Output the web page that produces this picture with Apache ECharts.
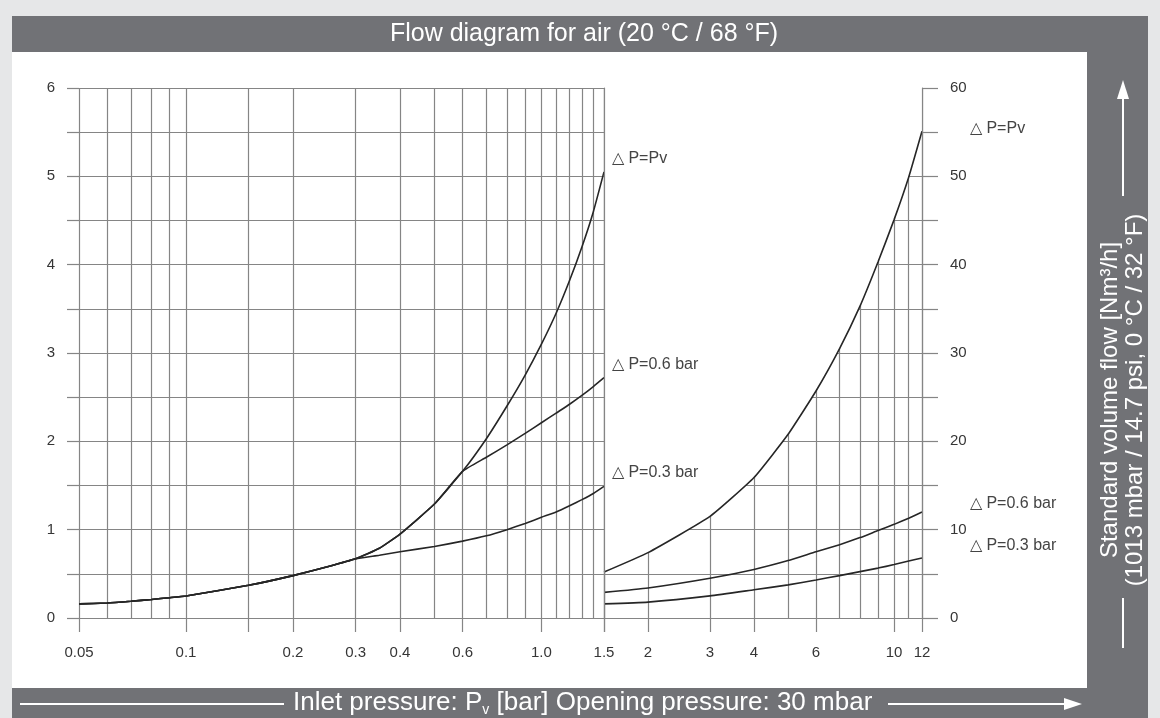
<!DOCTYPE html>
<html lang="en">
<head>
<meta charset="UTF-8">
<title>Flow diagram for air</title>
<script src="https://cdn.jsdelivr.net/npm/echarts@6/dist/echarts.min.js"></script>
<style>
html, body { margin: 0; padding: 0; background: #e6e7e8; }
#main { width: 1160px; height: 718px; }
</style>
</head>
<body>
<div id="main"></div>
<script>
// inlet pressure [bar] for the left part, flow read on the 0..6 scale
var leftX   = [0.05, 0.06, 0.07, 0.08, 0.09, 0.1, 0.15, 0.2, 0.25, 0.3, 0.35, 0.4, 0.5, 0.6, 0.7, 0.8, 0.9, 1.0, 1.1, 1.2, 1.3, 1.4, 1.5];
var pvLeft  = [0.16, 0.17, 0.19, 0.21, 0.23, 0.25, 0.37, 0.48, 0.58, 0.67, 0.79, 0.95, 1.29, 1.66, 2.03, 2.40, 2.75, 3.10, 3.45, 3.82, 4.20, 4.60, 5.05];
var p06Left = [0.16, 0.17, 0.19, 0.21, 0.23, 0.25, 0.37, 0.48, 0.58, 0.67, 0.79, 0.95, 1.29, 1.66, 1.82, 1.96, 2.09, 2.21, 2.32, 2.42, 2.52, 2.62, 2.72];
var p03Left = [0.16, 0.17, 0.19, 0.21, 0.23, 0.25, 0.37, 0.48, 0.58, 0.67, 0.71, 0.75, 0.81, 0.87, 0.93, 1.00, 1.07, 1.14, 1.20, 1.27, 1.34, 1.41, 1.49];

// right part, flow read on the 0..60 scale
var rightX   = [1.5, 2, 3, 4, 5, 6, 7, 8, 9, 10, 11, 12];
var pvRight  = [5.2, 7.4, 11.5, 15.9, 20.8, 25.7, 30.5, 35.3, 40.3, 45.1, 49.9, 55.1];
var p06Right = [2.9, 3.4, 4.5, 5.5, 6.5, 7.5, 8.3, 9.1, 9.9, 10.6, 11.3, 12.0];
var p03Right = [1.6, 1.8, 2.5, 3.2, 3.75, 4.3, 4.8, 5.25, 5.65, 6.05, 6.45, 6.8];

// grid lines, ticks and tick labels of the pressure axis
var leftGridX  = [0.05, 0.06, 0.07, 0.08, 0.09, 0.1, 0.15, 0.2, 0.3, 0.4, 0.5, 0.6, 0.7, 0.8, 0.9, 1.0, 1.1, 1.2, 1.3, 1.4, 1.5];
var leftTickX  = [0.05, 0.1, 0.15, 0.2, 0.3, 0.4, 0.6, 1.0, 1.5];
var leftLabelX = [0.05, 0.1, 0.2, 0.3, 0.4, 0.6, 1.0, 1.5];
var leftLabelText = ['0.05', '0.1', '0.2', '0.3', '0.4', '0.6', '1.0', '1.5'];
var rightGridX  = [1.5, 2, 3, 4, 5, 6, 7, 8, 9, 10, 11, 12];
var rightTickX  = [1.5, 2, 3, 4, 6, 10, 12];
var rightLabelX = [2, 3, 4, 6, 10, 12];
var rightLabelText = ['2', '3', '4', '6', '10', '12'];

var curveNames = ['\u25B3 P=Pv', '\u25B3 P=0.6 bar', '\u25B3 P=0.3 bar'];

var FONT = '"Liberation Sans", Arial, sans-serif';
var gridLine = { color: '#858585', width: 1.2 };
var tickFont = { color: '#363636', fontSize: 15, fontFamily: FONT };

function pairs(xs, ys) {
  return xs.map(function (x, i) { return [x, ys[i]]; });
}
function lookup(vals, texts) {
  return function (v) {
    for (var i = 0; i < vals.length; i++) {
      if (Math.abs(vals[i] - v) < 1e-6) return texts[i];
    }
    return '';
  };
}
function curve(name, xi, yi, data, label, off) {
  return {
    name: name, type: 'line', xAxisIndex: xi, yAxisIndex: yi,
    data: data, smooth: 0.15, symbol: 'none',
    lineStyle: { color: '#262626', width: 1.6 },
    endLabel: { show: true, formatter: label, offset: off, color: '#444', fontSize: 16, fontFamily: FONT },
    z: 3
  };
}

var myChart = echarts.init(document.getElementById('main'));

var series = [
  curve('pvL', 0, 0, pairs(leftX, pvLeft), curveNames[0], [0, -13]),
  curve('p06L', 0, 0, pairs(leftX, p06Left), curveNames[1], [0, -13]),
  curve('p03L', 0, 0, pairs(leftX, p03Left), curveNames[2], [0, -14]),
  curve('pvR', 2, 1, pairs(rightX, pvRight), curveNames[0], [40, -3]),
  curve('p06R', 2, 1, pairs(rightX, p06Right), curveNames[1], [40, -8]),
  curve('p03R', 2, 1, pairs(rightX, p03Right), curveNames[2], [40, -12])
];
// blank the grid above the Pv curve in the right part
series[3].areaStyle = { color: '#ffffff', opacity: 1, origin: 'end' };

var option = {
  backgroundColor: '#e6e7e8',
  animation: false,
  grid: [
    { left: 79, top: 88, width: 525, height: 530, outerBoundsMode: 'none' },
    { left: 604, top: 88, width: 318, height: 530, outerBoundsMode: 'none' }
  ],
  xAxis: [
    { gridIndex: 0, type: 'log', min: 0.05, max: 1.5,
      axisLine: { show: false },
      axisTick: { show: false, customValues: leftGridX },
      splitLine: { show: true, lineStyle: gridLine },
      axisLabel: Object.assign({ customValues: leftLabelX, formatter: lookup(leftLabelX, leftLabelText), margin: 27 }, tickFont) },
    { gridIndex: 0, type: 'log', min: 0.05, max: 1.5, position: 'bottom',
      axisLine: { show: false },
      axisTick: { show: true, customValues: leftTickX, length: 14, lineStyle: gridLine },
      splitLine: { show: false }, axisLabel: { show: false } },
    { gridIndex: 1, type: 'log', min: 1.5, max: 12,
      axisLine: { show: false },
      axisTick: { show: false, customValues: rightGridX },
      splitLine: { show: true, lineStyle: gridLine },
      axisLabel: Object.assign({ customValues: rightLabelX, formatter: lookup(rightLabelX, rightLabelText), margin: 27 }, tickFont) },
    { gridIndex: 1, type: 'log', min: 1.5, max: 12, position: 'bottom',
      axisLine: { show: false },
      axisTick: { show: true, customValues: rightTickX, length: 14, lineStyle: gridLine },
      splitLine: { show: false }, axisLabel: { show: false } },
    { gridIndex: 1, type: 'log', min: 1.5, max: 12, position: 'top', z: 5,
      axisLine: { show: true, lineStyle: gridLine },
      axisTick: { show: false }, splitLine: { show: false }, axisLabel: { show: false } }
  ],
  yAxis: [
    { gridIndex: 0, type: 'value', min: 0, max: 6, interval: 0.5,
      axisLine: { show: false },
      axisTick: { show: true, length: 12, lineStyle: gridLine },
      splitLine: { show: true, lineStyle: gridLine },
      axisLabel: Object.assign({ interval: 0, margin: 24, formatter: function (v) { return v % 1 === 0 ? String(v) : ''; } }, tickFont) },
    { gridIndex: 1, type: 'value', position: 'right', min: 0, max: 60, interval: 5,
      axisLine: { show: false },
      axisTick: { show: true, length: 16, lineStyle: gridLine },
      splitLine: { show: true, lineStyle: gridLine },
      axisLabel: Object.assign({ interval: 0, margin: 28, formatter: function (v) { return v % 10 === 0 ? String(v) : ''; } }, tickFont) },
    { gridIndex: 1, type: 'value', position: 'left', min: 0, max: 60, z: 5,
      axisLine: { show: true, lineStyle: gridLine },
      axisTick: { show: false }, splitLine: { show: false }, axisLabel: { show: false } },
    { gridIndex: 1, type: 'value', position: 'right', min: 0, max: 60, z: 5,
      axisLine: { show: true, lineStyle: gridLine },
      axisTick: { show: false }, splitLine: { show: false }, axisLabel: { show: false } }
  ],
  graphic: { elements: [
    { type: 'rect', silent: true, z: -20, shape: { x: 12, y: 16, width: 1136, height: 702 }, style: { fill: '#717276' } },
    { type: 'rect', silent: true, z: -19, shape: { x: 12, y: 52, width: 1075, height: 636 }, style: { fill: '#ffffff' } },
    { type: 'text', silent: true, x: 584, y: 34,
      style: { text: 'Flow diagram for air (20 °C / 68 °F)', fill: '#ffffff', fontSize: 25, fontFamily: FONT, align: 'center', verticalAlign: 'middle' } },
    // bottom axis title with arrow
    { type: 'line', silent: true, shape: { x1: 20, y1: 704, x2: 284, y2: 704 }, style: { stroke: '#ffffff', lineWidth: 2 } },
    { type: 'text', silent: true, x: 293, y: 703,
      style: { text: 'Inlet pressure: P{sub|v} [bar] Opening pressure: 30 mbar', fill: '#ffffff', fontSize: 26, fontFamily: FONT,
        align: 'left', verticalAlign: 'middle', lineHeight: 28,
        rich: { sub: { fontSize: 14, fontFamily: FONT, fill: '#ffffff', lineHeight: 12, verticalAlign: 'bottom' } } } },
    { type: 'line', silent: true, shape: { x1: 888, y1: 704, x2: 1068, y2: 704 }, style: { stroke: '#ffffff', lineWidth: 2 } },
    { type: 'polygon', silent: true, shape: { points: [[1064, 698], [1082, 704], [1064, 710]] }, style: { fill: '#ffffff' } },
    // right axis title with arrow
    { type: 'line', silent: true, shape: { x1: 1123, y1: 648, x2: 1123, y2: 598 }, style: { stroke: '#ffffff', lineWidth: 2 } },
    { type: 'text', silent: true, x: 1110, y: 400, rotation: Math.PI / 2,
      style: { text: 'Standard volume flow [Nm³/h]', fill: '#ffffff', fontSize: 24, fontFamily: FONT, align: 'center', verticalAlign: 'middle' } },
    { type: 'text', silent: true, x: 1135, y: 400, rotation: Math.PI / 2,
      style: { text: '(1013 mbar / 14.7 psi, 0 °C / 32 °F)', fill: '#ffffff', fontSize: 24, fontFamily: FONT, align: 'center', verticalAlign: 'middle' } },
    { type: 'line', silent: true, shape: { x1: 1123, y1: 196, x2: 1123, y2: 96 }, style: { stroke: '#ffffff', lineWidth: 2 } },
    { type: 'polygon', silent: true, shape: { points: [[1117, 99], [1123, 80], [1129, 99]] }, style: { fill: '#ffffff' } }
  ] },
  series: series
};

myChart.setOption(option);
</script>
</body>
</html>
